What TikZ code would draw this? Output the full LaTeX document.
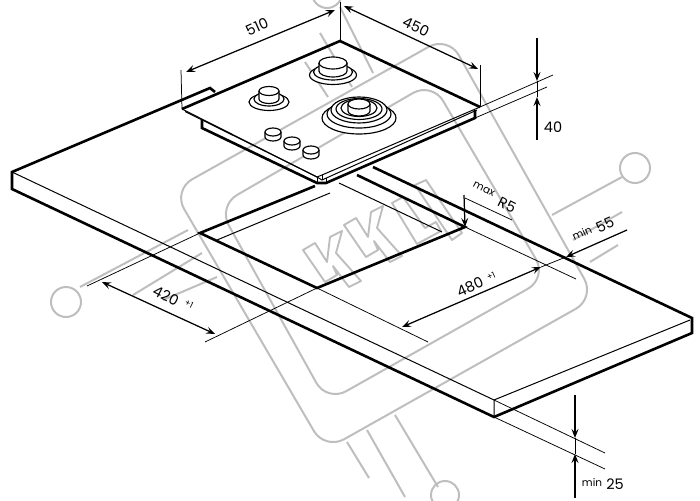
\documentclass[tikz,border=0pt]{standalone}
\usepackage{fontspec}
\setmainfont{Poppins}
\usetikzlibrary{arrows.meta}
\definecolor{wm}{HTML}{BEBEBE}
\tikzset{
  thickline/.style={line width=2.6pt,line join=miter},
  thinline/.style={line width=1pt},
  extline/.style={line width=0.75pt},
  dimline/.style={line width=1.25pt,{Stealth[length=9pt,width=7pt,inset=3.5pt,fill=white]}-{Stealth[length=9pt,width=7pt,inset=3.5pt,fill=white]}},
  dimin/.style={line width=1.25pt,-{Stealth[length=9pt,width=7pt,inset=3.5pt,fill=white]}},
  wmline/.style={draw=wm,line width=2pt},
  wmtext/.style={draw=wm,line width=1.9pt,line join=round},
  dimtext/.style={font=\fontsize{14.5}{15}\selectfont,inner sep=0pt},
  smalltext/.style={font=\fontsize{10.5}{11}\selectfont,inner sep=0pt},
  tinytext/.style={font=\fontsize{8.5}{9}\selectfont,inner sep=0pt},
  burner/.style={line width=1.15pt,fill=white},
}
\newcommand{\cylcap}[5]{% cx cy rx ry h
  \draw[burner] (#1-#3,#2) -- (#1-#3,#2+#5) arc[start angle=180,end angle=0,x radius=#3,y radius=#4] -- (#1+#3,#2);
  \draw[burner] (#1,#2) ellipse[x radius=#3,y radius=#4];
}
\newcommand{\kletter}[2]{%
  \begin{scope}[shift={(#1,#2)}]
  \draw[wmtext] (0,0)--(12,-7)--(24,12)--(27,-13)--(39,-19)--(33,3)--(58,31)--(46,37)--(30,16)--(34,25)--(22,32)--cycle;
  \end{scope}}
\begin{document}
\begin{tikzpicture}[x=1pt,y=-1pt]
\clip (0,0) rectangle (700,500);
% watermark
\draw[wmline,rounded corners=22pt] (173,190)--(448,36)--(595,298)--(325,450)--cycle;
\draw[wmline,rounded corners=22pt] (218,206)--(432,82)--(547,278)--(327,402)--cycle;
\draw[wmline] (66,302) circle[radius=15];
\draw[wmline] (80,287)--(188,230);
\draw[wmline] (133,295)--(202,253);
\draw[wmline] (163,300)--(217,277);
\draw[wmline] (635,168) circle[radius=15];
\draw[wmline] (622,177)--(552,215);
\draw[wmline] (622,212)--(573,240);
\draw[wmline] (618,245)--(590,262);
\draw[wmline] (445,495) circle[radius=14];
\draw[wmline] (395,415)--(438,487);
\draw[wmline] (367,430)--(405,497);
\draw[wmline] (347,442)--(369,478);
\draw[wmline] (327,-7) circle[radius=15];
\draw[wmline] (340,7)--(373,73);
\draw[wmline] (320,33)--(352,87);
\draw[wmline] (305,62)--(328,97);
% watermark letters
\kletter{303}{250}
\kletter{344}{225}
\draw[wmtext] (392,203)--(403,197)--(425,228)--(436,222)--(441,231)--(417,244)--cycle;
\draw[wmtext] (415,185)--(426,180)--(462,233)--(452,240)--cycle;
% worktop corners
\coordinate (wtl) at (12,172);
\coordinate (wbl) at (12,189);
\coordinate (wtf) at (494,400);
\coordinate (wbf) at (494,417);
\coordinate (wtr) at (692,318);
\coordinate (wbr) at (692,333);
\coordinate (hook1) at (210,88);
\coordinate (hook2) at (215,92);
\coordinate (back2) at (373,167);
% worktop
\draw[thickline] (hook2)--(hook1)--(wtl)--(wbl)--(wbf)--(wbr)--(wtr)--(back2);
\draw[thinline] (wtl)--(wtf)--(wbf);
\draw[thinline] (wtf)--(690,320);
% cut-out
\coordinate (c1) at (357,175);
\coordinate (c2) at (465,227);
\coordinate (c3) at (317,288);
\coordinate (c4) at (200,233);
\coordinate (c5) at (315,186);
\draw[thickline] (c1)--(c2)--(c3)--(c4)--(c5);
\coordinate (i1) at (217,240);
\coordinate (i2) at (330,193);
\coordinate (i3) at (339,183);
\coordinate (i4) at (442,232);
\draw[thinline] (i1)--(i2);
\draw[thinline] (i3)--(i4);
% hob
\coordinate (ht) at (340,41);
\coordinate (hl) at (182,109);
\coordinate (hr) at (480,107);
\coordinate (hf) at (322,175);
\coordinate (u1) at (202,120);
\coordinate (u2) at (202,128);
\coordinate (u3) at (317,183);
\coordinate (u4) at (326,183);
\coordinate (u5) at (475,118);
\coordinate (u6) at (475,110);
\draw[thickline] (u1)--(u2)--(u3)--(u4)--(u5)--(u6);
\draw[thinline] (hl)--(317,177)--(hf)--(hr);
\draw[thickline] (hl)--(ht)--(hr);
\draw[thinline] (185,111.5)--(317,177);
\draw[thinline] (317,177)--(322,180)--(477,110);
\draw[thinline] (317,177)--(u3);
\draw[thinline] (322,175)--(322,180);
\draw[thinline] (326,178)--(u4);
% burners
\draw[burner] (333,75) ellipse[x radius=23.5,y radius=9.5];
\draw[burner] (333,72) ellipse[x radius=19.5,y radius=8];
\cylcap{333}{63}{14}{6}{8}
\draw[burner] (269,102) ellipse[x radius=20,y radius=8.5];
\draw[burner] (269,99) ellipse[x radius=15,y radius=7];
\cylcap{269}{91}{10}{4.5}{8}
\draw[burner] (359,118) ellipse[x radius=37,y radius=16];
\draw[burner] (359,114) ellipse[x radius=32,y radius=14];
\draw[burner] (359,110) ellipse[x radius=28,y radius=13];
\draw[burner] (359,109) ellipse[x radius=23,y radius=10.5];
\draw[burner] (359,108) ellipse[x radius=18,y radius=8.5];
\cylcap{359}{104}{11}{5}{7}
\cylcap{273}{132}{8}{4}{5}
\cylcap{292}{141}{8}{4}{5}
\cylcap{311}{150}{8}{4}{5}
% extension lines
\coordinate (e510a) at (181,70);
\coordinate (e510b) at (340,2);
\coordinate (e450b) at (480,65);
\draw[extline] (e510a)--(hl);
\draw[extline] (e510b)--(ht);
\draw[extline] (e450b)--(hr);
\coordinate (e40a) at (553,75);
\coordinate (e40b) at (547,87);
\draw[extline] (hr)--(e40a);
\draw[extline] (u5)--(e40b);
\coordinate (e420a) at (87,286);
\coordinate (e420b) at (205,342);
\draw[extline] (c4)--(e420a);
\draw[extline] (c3)--(e420b);
\coordinate (e480a) at (576,279);
\coordinate (e480b) at (428,342);
\draw[extline] (c2)--(e480a);
\draw[extline] (c3)--(e480b);
\coordinate (e25a) at (605,453);
\coordinate (e25b) at (605,469);
\draw[extline] (wtf)--(e25a);
\draw[extline] (wbf)--(e25b);
\coordinate (r5a) at (465,198);
\coordinate (r5b) at (512,220);
\draw[extline] (r5a)--(r5b);
% dimensions
\coordinate (d510a) at (186,72);
\coordinate (d510b) at (335,10);
\coordinate (d450a) at (344,6);
\coordinate (d450b) at (478,69);
\coordinate (d420a) at (102,282);
\coordinate (d420b) at (215,334);
\coordinate (d480a) at (402,327);
\coordinate (d480b) at (541,267);
\coordinate (d55) at (566,257);
\coordinate (d55s) at (627,230);
\draw[dimline] (d510a)--(d510b);
\draw[dimline] (d450a)--(d450b);
\draw[dimline] (d420a)--(d420b);
\draw[dimline] (d480a)--(d480b);
\draw[extline] (d480b)--(d55);
\draw[dimin] (d55s)--(d55);
\coordinate (r5s) at (464,195);
\draw[dimin] (r5s)--(c2);
\coordinate (d40a) at (537,38);
\coordinate (d40at) at (537,81);
\coordinate (d40b) at (537,140);
\coordinate (d40bt) at (537,97);
\draw[dimin] (d40a)--(d40at);
\draw[dimin] (d40b)--(d40bt);
\draw[extline] (d40at)--(d40bt);
\coordinate (d25a) at (575,395);
\coordinate (d25at) at (575,438);
\coordinate (d25b) at (575,498);
\coordinate (d25bt) at (575,454);
\draw[dimin] (d25a)--(d25at);
\draw[dimin] (d25b)--(d25bt);
\draw[extline] (d25at)--(d25bt);
% labels
\node[dimtext,rotate=24] (t510) at (257,27) {510};
\node[dimtext,rotate=-26] (t450) at (416,27) {450};
\node[dimtext] (t40) at (553,127) {40};
\node[dimtext,rotate=-27] (t420) at (166,296) {420};
\node[tinytext,rotate=-27] (p420) at (189,304) {+1};
\node[dimtext,rotate=24] (t480) at (470,287) {480};
\node[tinytext,rotate=24] (p480) at (491,276) {+1};
\node[smalltext,rotate=-27] (tmax) at (484,189) {max};
\node[dimtext,rotate=-27] (tr5) at (507,205) {R5};
\node[smalltext,rotate=24] (tmin1) at (582,233) {min};
\node[dimtext,rotate=24] (t55) at (605,225) {55};
\node[smalltext] (tmin2) at (592,482) {min};
\node[dimtext] (t25) at (615,484) {25};
\end{tikzpicture}
\end{document}
